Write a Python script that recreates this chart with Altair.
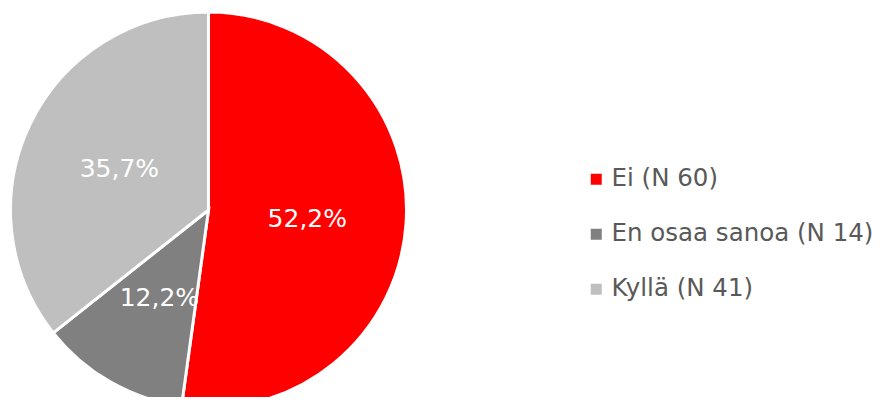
import altair as alt
import pandas as pd

categories = ["Ei (N 60)", "En osaa sanoa (N 14)", "Kyllä (N 41)"]
counts = [60, 14, 41]
pct_labels = ["52,2%", "12,2%", "35,7%"]
colors = ["#FF0000", "#808080", "#BFBFBF"]

df = pd.DataFrame({
    "cat": categories,
    "n": counts,
    "label": pct_labels,
    "order": list(range(len(categories))),
})

FONT = "DejaVu Sans"
CX, CY = 200.5, 202

base = alt.Chart(df).encode(
    theta=alt.Theta("n:Q", stack=True),
    order=alt.Order("order:Q"),
)

arcs = base.mark_arc(
    radius=198, stroke="white", strokeWidth=3, x=CX, y=CY
).encode(
    color=alt.Color(
        "cat:N",
        scale=alt.Scale(domain=categories, range=colors),
        legend=alt.Legend(
            title=None,
            orient="none",
            legendX=576,
            legendY=159,
            symbolType="square",
            symbolSize=121,
            symbolStrokeWidth=0,
            labelFont=FONT,
            labelFontSize=24.5,
            labelColor="#595959",
            labelOffset=3,
            rowPadding=30,
            padding=0,
            labelLimit=400,
        ),
    )
)

texts = base.mark_text(
    radius=99, font=FONT, fontSize=25, color="white", x=CX, y=CY, dy=2
).encode(text="label:N")

chart = (arcs + texts).properties(
    width=874,
    height=389,
    padding=0,
    autosize=alt.AutoSizeParams(type="none"),
).configure_view(stroke=None)

chart.save("out.html", embed_options={"renderer": "svg", "actions": False})
